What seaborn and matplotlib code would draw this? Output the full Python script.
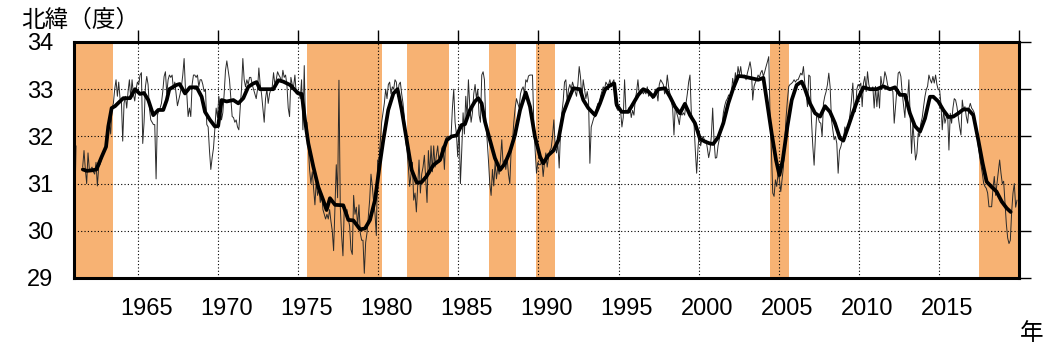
import numpy as np
import pandas as pd
import matplotlib
matplotlib.use("Agg")
import matplotlib.pyplot as plt
import matplotlib.transforms as mtransforms
import seaborn as sns

# ---------------- data ----------------
start_year = 1961  # monthly series starts January 1961
nan = float("nan")
lat_monthly = [
    30.3, 31.8, nan, nan, nan, nan, 31.35, 31.7, 31.3, 31.0, 31.65, 31.3,          # 1961
    31.3, 31.35, 31.25, 31.2, 31.45, 30.95, 31.35, 31.4, 31.5, 31.6, 31.7, 31.75,  # 1962
    32.1, 32.2, 32.3, 32.05, 32.6, 32.7, 33.0, 33.2, 32.85, 33.15, 32.8, 32.75,    # 1963
    31.9, 32.7, 32.85, 32.6, 32.95, 33.2, 32.8, 33.2, 32.9, 32.75, 33.0, 33.15,    # 1964
    33.1, 33.3, 33.35, 31.85, 32.3, 33.05, 33.27, 33.1, 32.6, 32.35, 32.3, 32.25,  # 1965
    32.25, 31.1, 32.45, 32.55, 32.6, 32.7, 32.95, 33.27, 33.37, 32.9, 33.2, 33.3,  # 1966
    33.25, 33.3, 33.0, 33.15, 32.9, 32.65, 32.77, 32.9, 33.06, 33.3, 33.65, 33.0,  # 1967
    32.9, 32.42, 32.6, 32.42, 33.1, 33.3, 33.3, 33.25, 33.3, 33.05, 33.2, 33.2,    # 1968
    33.1, 32.95, 33.0, 32.25, 32.2, 31.7, 31.3, 31.55, 31.75, 32.15, 32.6, 32.4,   # 1969
    32.85, 32.6, 32.35, 32.5, 32.9, 33.4, 33.6, 33.4, 33.2, 32.8, 32.42, 32.4,     # 1970
    32.3, 32.35, 32.2, 32.14, 32.6, 33.0, 33.65, 33.2, 33.05, 33.2, 33.1, 33.25,   # 1971
    33.25, 33.1, 33.0, 32.9, 32.8, 33.0, 33.45, 33.1, 32.9, 32.6, 32.3, 32.8,      # 1972
    33.0, 32.7, 32.9, 33.0, 33.05, 33.35, 33.1, 33.2, 33.37, 33.3, 33.25, 33.15,   # 1973
    33.4, 33.25, 33.3, 33.1, 32.6, 32.42, 33.25, 33.1, 33.05, 33.3, 32.9, 32.95,   # 1974
    32.95, 32.8, 33.2, 32.14, 33.5, 32.14, 32.3, 31.8, 31.3, 31.0, 31.25, 30.9,    # 1975
    30.55, 31.05, 30.75, 30.9, 30.6, 30.8, 30.45, 30.35, 30.25, 30.35, 30.25, 30.45,  # 1976
    30.2, 30.0, 29.58, 30.5, 31.4, 30.7, 33.19, 30.5, 29.9, 29.47, 30.5, 30.37,    # 1977
    30.45, 30.25, 30.1, 29.6, 29.5, 30.75, 30.35, 30.5, 30.1, 30.55, 29.95, 29.8,  # 1978
    29.8, 29.1, 29.75, 29.95, 30.3, 30.65, 31.2, 30.94, 30.6, 30.37, 29.9, 31.5,   # 1979
    31.5, 31.9, 32.3, 32.5, 32.7, 33.0, 32.8, 33.1, 33.15, 32.9, 33.05, 33.0,      # 1980
    33.2, 33.15, 32.85, 33.1, 33.15, 32.9, 32.7, 32.4, 31.9, 31.7, 31.36, 30.94,   # 1981
    31.2, 31.45, 30.65, 30.8, 30.4, 30.95, 31.5, 30.8, 31.2, 31.35, 31.6, 31.1,    # 1982
    30.6, 31.7, 31.2, 31.8, 31.25, 31.8, 31.35, 31.6, 31.8, 31.45, 31.5, 31.75,    # 1983
    31.8, 31.3, 31.95, 32.0, 32.0, 31.95, 32.0, 32.6, 33.0, 32.3, 32.05, 31.57,    # 1984
    32.25, 31.0, 31.7, 32.5, 32.05, 32.85, 32.4, 33.2, 32.65, 32.3, 32.5, 32.9,    # 1985
    33.1, 32.8, 33.0, 32.45, 32.3, 33.3, 33.37, 33.2, 32.3, 31.93, 31.5, 31.0,     # 1986
    30.75, 31.3, 30.95, 31.45, 31.1, 31.35, 31.2, 31.5, 31.93, 31.4, 31.5, 31.3,   # 1987
    31.55, 31.2, 31.0, 31.7, 31.9, 32.3, 32.6, 32.8, 32.7, 32.6, 32.9, 33.0,       # 1988
    33.05, 32.9, 33.2, 33.15, 33.28, 33.3, 33.3, 33.3, 32.28, 31.7, 31.22, 31.45,  # 1989
    31.4, 31.4, 31.5, 31.15, 31.45, 31.65, 31.35, 31.55, 31.7, 31.75, 32.0, 32.35, # 1990
    31.8, 31.65, 31.85, 31.33, 32.1, 32.5, 32.75, 33.15, 33.2, 32.75, 33.0, 33.1,  # 1991
    33.0, 33.15, 33.05, 32.95, 32.85, 33.1, 33.48, 33.25, 32.8, 33.2, 33.0, 32.8,  # 1992
    32.95, 32.75, 31.43, 32.2, 32.3, 32.4, 32.42, 32.6, 32.7, 32.7, 32.85, 32.95,  # 1993
    33.05, 33.0, 33.15, 33.1, 33.1, 33.2, 33.05, 33.15, 33.2, 32.7, 32.6, 32.55,   # 1994
    32.6, 32.55, 32.2, 32.4, 33.2, 32.55, 32.5, 32.6, 32.62, 32.4, 32.55, 32.45,   # 1995
    32.77, 32.95, 33.2, 32.9, 32.99, 33.0, 32.9, 32.95, 32.9, 33.05, 32.85, 32.9,  # 1996
    32.85, 32.8, 32.85, 33.0, 32.95, 32.75, 33.1, 33.2, 33.15, 33.1, 32.9, 33.0,   # 1997
    33.3, 33.05, 32.9, 32.75, 32.6, 32.03, 32.65, 32.5, 32.4, 32.25, 32.5, 32.45,  # 1998
    32.5, 32.45, 32.7, 32.9, 33.15, 33.3, 32.5, 32.35, 32.28, 31.7, 31.22, 31.75,  # 1999
    32.1, 31.8, 31.95, 32.0, 31.9, 31.92, 31.75, 31.55, 31.7, 32.0, 32.6, 31.93,   # 2000
    31.54, 31.55, 31.8, 31.95, 32.15, 32.2, 32.5, 32.65, 32.75, 32.8, 32.88, 32.85,  # 2001
    32.9, 33.23, 33.05, 33.35, 33.15, 33.48, 33.3, 33.48, 33.25, 33.28, 33.3, 33.2,  # 2002
    33.34, 33.45, 33.58, 33.4, 32.77, 33.06, 33.15, 33.2, 33.3, 33.25, 33.35, 33.4,  # 2003
    33.27, 33.37, 33.48, 33.58, 33.69, 32.42, 31.7, 30.8, 30.73, 31.08, 30.94, 31.22,  # 2004
    31.08, 30.83, 31.1, 31.35, 31.9, 32.4, 32.77, 33.06, 33.1, 33.12, 33.15, 33.2,   # 2005
    33.15, 33.2, 33.2, 33.27, 33.34, 33.3, 33.48, 33.13, 32.9, 32.63, 33.3, 33.27,   # 2006
    32.35, 31.8, 31.39, 32.0, 32.5, 32.4, 32.3, 32.28, 32.0, 32.7, 32.85, 32.95,     # 2007
    33.1, 33.34, 33.05, 32.35, 32.14, 31.93, 32.0, 31.85, 31.22, 31.7, 31.78, 31.9,  # 2008
    31.93, 32.2, 32.1, 32.15, 32.28, 32.5, 32.77, 33.13, 32.56, 32.52, 33.0, 33.1,   # 2009
    33.06, 33.13, 32.63, 33.13, 33.27, 32.95, 33.37, 33.1, 32.99, 33.0, 33.05, 32.6, # 2010
    33.06, 32.63, 33.0, 32.6, 33.27, 33.06, 33.13, 33.37, 33.27, 33.1, 33.0, 33.0,   # 2011
    33.0, 32.95, 32.28, 32.63, 32.99, 33.34, 33.37, 33.27, 32.92, 32.65, 32.4, 32.9, # 2012
    32.77, 33.2, 32.42, 31.64, 32.28, 31.9, 31.5, 31.64, 32.07, 32.0, 32.28, 32.4,   # 2013
    32.63, 32.84, 32.99, 33.06, 33.3, 33.2, 33.13, 33.27, 33.13, 33.3, 33.1, 32.99,  # 2014
    32.99, 32.7, 32.14, 32.56, 32.28, 32.4, 32.49, 31.71, 32.49, 32.28, 32.6, 32.8,  # 2015
    32.77, 32.63, 32.42, 32.2, 32.03, 32.77, 32.56, 32.63, 32.42, 32.28, 32.6, 32.7, # 2016
    32.6, 32.56, 32.5, 32.14, 32.0, 31.79, 31.57, 31.4, 31.22, 31.01, 30.94, 30.9,   # 2017
    30.8, 30.51, 30.51, 30.51, 30.9, 31.15, 30.75, 31.0, 31.25, 31.5, 31.22, 31.0,   # 2018
    31.05, 30.6, 30.15, 29.85, 29.73, 29.8, 30.4, 30.8, 31.0, 30.5, 30.65,           # 2019
]

smooth_year = [
    1961.55, 1961.8, 1962.1, 1962.4, 1962.73, 1963.0, 1963.14, 1963.35, 1963.56, 1963.8,
    1964.08, 1964.5, 1964.81, 1965.12, 1965.37, 1965.64, 1965.95, 1966.26, 1966.57, 1966.79,
    1966.95, 1967.4, 1967.6, 1967.93, 1968.24, 1968.66, 1968.97, 1969.18, 1969.49, 1969.8,
    1970.0, 1970.22, 1970.53, 1970.95, 1971.26, 1971.57, 1971.88, 1972.19, 1972.4, 1972.61,
    1973.03, 1973.44, 1973.76, 1974.07, 1974.49, 1974.69, 1975.0, 1975.22, 1975.42, 1975.63,
    1975.94, 1976.25, 1976.56, 1976.77, 1976.98, 1977.3, 1977.81, 1978.13, 1978.44, 1978.86,
    1979.17, 1979.48, 1979.79, 1980.1, 1980.31, 1980.62, 1980.94, 1981.2, 1981.46, 1981.77,
    1982.08, 1982.4, 1982.7, 1983.0, 1983.43, 1983.85, 1984.27, 1984.58, 1984.89, 1985.2,
    1985.41, 1985.72, 1986.03, 1986.24, 1986.45, 1986.66, 1986.97, 1987.28, 1987.6, 1987.91,
    1988.22, 1988.53, 1988.85, 1989.2, 1989.47, 1989.78, 1990.1, 1990.3, 1990.61, 1990.93,
    1991.24, 1991.55, 1991.86, 1992.17, 1992.59, 1992.8, 1993.11, 1993.53, 1993.84, 1994.15,
    1994.46, 1994.73, 1994.88, 1995.19, 1995.61, 1995.92, 1996.23, 1996.54, 1996.86, 1997.17,
    1997.48, 1997.9, 1998.21, 1998.52, 1998.83, 1999.14, 1999.46, 1999.77, 2000.08, 2000.39,
    2000.7, 2000.91, 2001.23, 2001.54, 2001.85, 2002.16, 2002.47, 2002.79, 2003.2, 2003.72,
    2004.04, 2004.25, 2004.56, 2004.83, 2005.04, 2005.25, 2005.54, 2005.81, 2006.12, 2006.43,
    2006.64, 2006.95, 2007.27, 2007.58, 2007.89, 2008.2, 2008.51, 2008.82, 2009.03, 2009.34,
    2009.65, 2009.96, 2010.28, 2010.7, 2011.11, 2011.53, 2011.94, 2012.26, 2012.57, 2012.88,
    2013.19, 2013.5, 2013.82, 2014.13, 2014.44, 2014.65, 2014.96, 2015.27, 2015.59, 2015.9,
    2016.21, 2016.52, 2016.83, 2017.15, 2017.46, 2017.73, 2017.98, 2018.29, 2018.6, 2018.92,
    2019.23, 2019.48,
]
smooth_lat = [
    31.30, 31.27, 31.28, 31.30, 31.57, 31.78, 32.21, 32.60, 32.64, 32.72,
    32.81, 32.81, 33.00, 32.90, 32.92, 32.77, 32.45, 32.56, 32.56, 32.77,
    33.00, 33.09, 33.11, 32.91, 33.04, 33.04, 32.84, 32.52, 32.35, 32.21,
    32.22, 32.77, 32.74, 32.77, 32.70, 32.81, 33.05, 33.12, 33.15, 33.00,
    33.00, 33.00, 33.19, 33.16, 33.09, 33.02, 32.91, 32.90, 32.35, 31.85,
    31.36, 30.93, 30.65, 30.44, 30.69, 30.55, 30.54, 30.23, 30.22, 30.03,
    30.05, 30.23, 30.65, 31.43, 31.92, 32.56, 32.91, 33.00, 32.56, 31.92,
    31.29, 31.02, 31.03, 31.15, 31.39, 31.50, 31.92, 32.00, 32.02, 32.24,
    32.26, 32.56, 32.74, 32.81, 32.70, 32.31, 31.92, 31.54, 31.29, 31.43,
    31.68, 32.03, 32.56, 32.93, 32.63, 31.99, 31.57, 31.43, 31.60, 31.70,
    31.92, 32.49, 32.77, 33.02, 33.00, 32.77, 32.60, 32.45, 32.70, 32.99,
    33.08, 33.12, 32.67, 32.52, 32.52, 32.70, 32.88, 33.00, 32.95, 32.84,
    33.00, 33.02, 32.84, 32.63, 32.49, 32.69, 32.45, 32.28, 31.95, 31.89,
    31.85, 31.84, 31.99, 32.28, 32.70, 33.02, 33.28, 33.27, 33.24, 33.20,
    33.24, 32.77, 32.06, 31.50, 31.18, 31.50, 32.21, 32.77, 33.09, 33.16,
    33.00, 32.70, 32.49, 32.42, 32.64, 32.52, 32.28, 31.96, 31.91, 32.21,
    32.52, 32.81, 33.04, 33.00, 33.00, 33.06, 33.00, 33.04, 32.88, 32.88,
    32.49, 32.22, 32.10, 32.38, 32.84, 32.84, 32.74, 32.56, 32.41, 32.42,
    32.49, 32.57, 32.57, 32.45, 31.92, 31.43, 31.04, 30.93, 30.83, 30.62,
    30.48, 30.40,
]

meander_start = [1961.0, 1975.55, 1981.81, 1986.89, 1989.84, 2004.45, 2017.52]
meander_end = [1963.43, 1980.25, 1984.43, 1988.60, 1991.01, 2005.66, 2020.0]

xtick_years = [1965, 1970, 1975, 1980, 1985, 1990, 1995, 2000, 2005, 2010, 2015, 2020]
xtick_labels = ["1965", "1970", "1975", "1980", "1985", "1990", "1995", "2000",
                "2005", "2010", "2015", ""]
ytick_values = [29, 30, 31, 32, 33, 34]
y_label_text = "北緯（度）"
x_label_text = "年"

# ---------------- plotting ----------------
sns.set_theme(style="white")
plt.rcParams["font.family"] = ["Liberation Sans", "DejaVu Sans"]

n = len(lat_monthly)
t = start_year + (np.arange(n) + 0.5) / 12.0
monthly = pd.DataFrame({"year": t, "lat": lat_monthly})
monthly["seg"] = monthly["lat"].isna().cumsum()
monthly = monthly.dropna()
smooth = pd.DataFrame({"year": smooth_year, "lat": smooth_lat})

W, H = 1064, 347
fig = plt.figure(figsize=(W / 100, H / 100), dpi=100)
ax = fig.add_axes([74 / W, 1 - 278 / H, 945 / W, 236 / H])

for s, e in zip(meander_start, meander_end):
    ax.axvspan(s, e, color="#F7B273", lw=0, zorder=0)

sns.lineplot(data=monthly, x="year", y="lat", units="seg", estimator=None,
             color="#2a2a2a", linewidth=0.7, ax=ax, zorder=3)
sns.lineplot(data=smooth, x="year", y="lat", estimator=None,
             color="black", linewidth=2.7, ax=ax, zorder=4)

ax.set_xlim(1961, 2020)
ax.set_ylim(29, 34)
ax.set_xticks(xtick_years)
ax.set_xticklabels(xtick_labels)
ax.set_yticks(ytick_values)
ax.set_xlabel("")
ax.set_ylabel("")
ax.set_axisbelow(True)
ax.grid(True, linestyle=(0, (1, 2)), color="black", linewidth=0.8)

ax.tick_params(axis="both", which="major", direction="out", length=8.5, width=1,
               color="black", top=True, right=True, labeltop=False,
               labelright=False, labelsize=17, labelcolor="black")
ax.tick_params(axis="x", pad=6)
ax.tick_params(axis="y", pad=6.5)
for sp in ax.spines.values():
    sp.set_visible(True)
    sp.set_linewidth(2.2)
    sp.set_color("black")
    sp.set_zorder(5)

offset = mtransforms.ScaledTranslation(8 / 100, 0, fig.dpi_scale_trans)
for lab in ax.get_xticklabels():
    lab.set_transform(lab.get_transform() + offset)

fig.text(21 / W, 1 - 20 / H, y_label_text, family=["Noto Sans CJK JP", "DejaVu Sans"],
         fontsize=17, ha="left", va="center", color="black")
fig.text(1032 / W, 1 - 334 / H, x_label_text, family=["Noto Sans CJK JP", "DejaVu Sans"],
         fontsize=17, ha="center", va="center", color="black")

fig.savefig("out.png", dpi=100)
